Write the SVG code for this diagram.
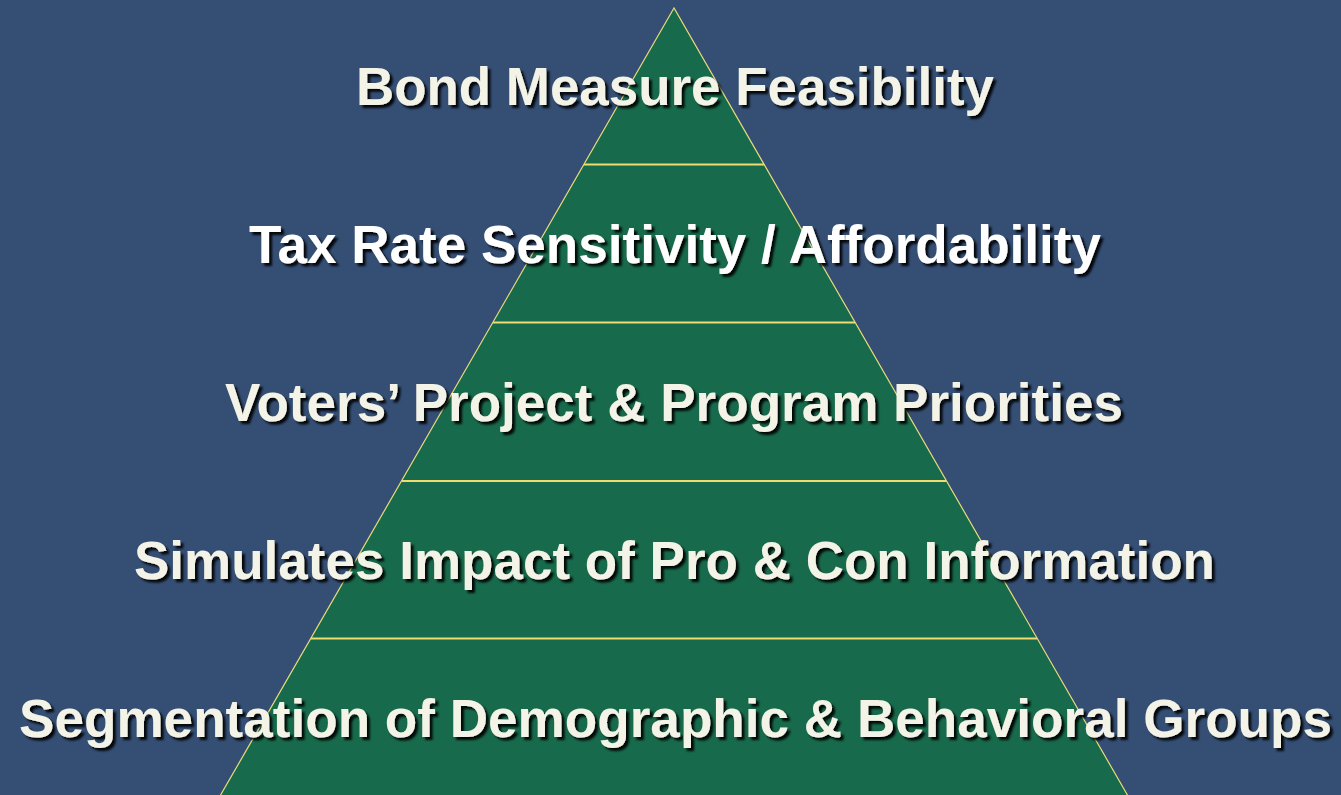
<svg xmlns="http://www.w3.org/2000/svg" width="1341" height="795" viewBox="0 0 1341 795">
<defs>
<style>
.lbl{font-family:"Liberation Sans",Arial,sans-serif;font-weight:bold;font-size:53px;fill:#F4F3E7;text-anchor:middle;filter:url(#sh)}
.w{fill:#FFFFFF}
.div{stroke:#F0DC6E;stroke-width:2;fill:none}
</style>
<filter id="sh" x="-5%" y="-30%" width="110%" height="160%">
<feDropShadow dx="3" dy="3" stdDeviation="1.2" flood-color="#000" flood-opacity="0.9"/>
</filter>
</defs>
<rect width="1341" height="795" fill="#344E74"/>
<g id="pyramid">
<polygon points="674,8 220,796 1128,796" fill="#176A4B" stroke="#E8DC78" stroke-width="1.2"/>
</g>
<g id="connectors">
<line class="div" x1="584" y1="164.5" x2="764" y2="164.5"/>
<line class="div" x1="493" y1="322.5" x2="855" y2="322.5"/>
<line class="div" x1="402" y1="481" x2="946" y2="481"/>
<line class="div" x1="311" y1="638.5" x2="1037" y2="638.5"/>
</g>
<g id="n1"><text class="lbl" x="675" y="105" textLength="638" lengthAdjust="spacingAndGlyphs">Bond Measure Feasibility</text></g>
<g id="n2"><text class="lbl w" x="675" y="263" textLength="852" lengthAdjust="spacingAndGlyphs">Tax Rate Sensitivity / Affordability</text></g>
<g id="n3"><text class="lbl" x="674" y="421" textLength="898" lengthAdjust="spacingAndGlyphs">Voters’ Project &amp; Program Priorities</text></g>
<g id="n4"><text class="lbl" x="674.5" y="579" textLength="1081" lengthAdjust="spacingAndGlyphs">Simulates Impact of Pro &amp; Con Information</text></g>
<g id="n5"><text class="lbl" x="675.5" y="737" textLength="1313" lengthAdjust="spacingAndGlyphs">Segmentation of Demographic &amp; Behavioral Groups</text></g>
</svg>
